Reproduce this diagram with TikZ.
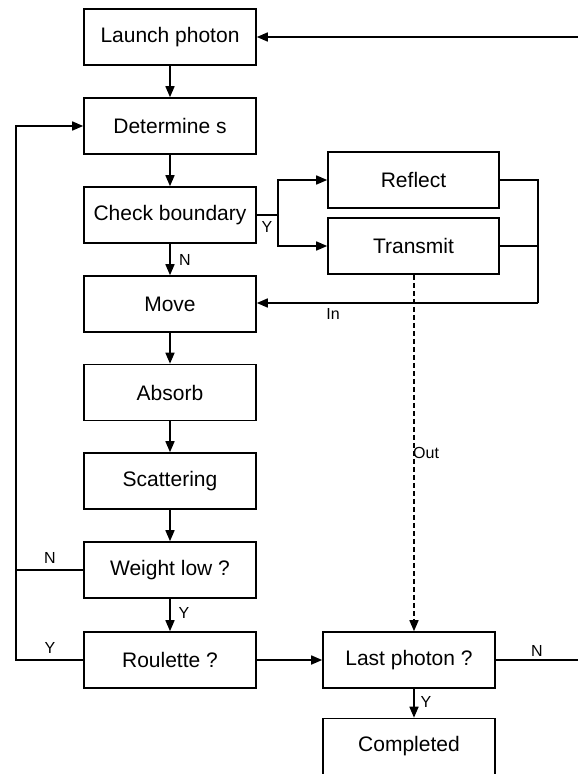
\documentclass[tikz,border=0pt]{standalone}
\usepackage{fontspec}
\setmainfont{Liberation Sans}
\usetikzlibrary{arrows.meta}
\tikzset{
  box/.style={draw, line width=1.6pt, minimum width=172pt, minimum height=56pt, inner sep=0pt,
    font=\fontsize{21}{25}\selectfont},
  conn/.style={line width=1.6pt},
  arr/.style={conn, -{Triangle[length=11pt,width=9pt]}},
  lbl/.style={font=\fontsize{16}{19}\selectfont, inner sep=0pt}
}
\begin{document}
\begin{tikzpicture}[x=1pt,y=-1pt]
\clip (0,0) rectangle (578,774);
\fill[white] (0,0) rectangle (578,774);
% left column
\node[box] (launch) at (170,37) {Launch photon};
\node[box] (det) at (170,126) {Determine s};
\node[box] (check) at (170,215) {Check boundary};
\node[box] (move) at (170,304) {Move};
\node[box] (abs) at (170,392.5) {Absorb};
\node[box] (scat) at (170,481) {Scattering};
\node[box] (wl) at (170,570) {Weight low ?};
\node[box] (rou) at (170,660) {Roulette ?};
% right column
\node[box, minimum width=171pt] (refl) at (413.5,180) {Reflect};
\node[box, minimum width=171pt] (trans) at (413.5,246) {Transmit};
\node[box] (last) at (409,660) {Last photon ?};
\node[box] (comp) at (409,746.5) {Completed};
% helper coordinates
\coordinate (edgeTop) at (578,37);
\coordinate (edgeBot) at (578,660);
\coordinate (jY) at (278,215);
\coordinate (busR) at (538,303);
\coordinate (busL) at (16,126);
\coordinate (dashX) at (414,0);
% main chain
\draw[arr] (launch) -- (det);
\draw[arr] (det) -- (check);
\draw[arr] (check) -- (move);
\draw[arr] (move) -- (abs);
\draw[arr] (abs) -- (scat);
\draw[arr] (scat) -- (wl);
\draw[arr] (wl) -- (rou);
\draw[arr] (rou) -- (last);
% boundary branch
\draw[conn] (check.east) -- (jY);
\draw[arr] (jY) |- (refl.west);
\draw[arr] (jY) |- (trans.west);
\draw[conn] (refl.east) -| (busR);
\draw[conn] (trans.east) -| (busR);
\draw[arr] (busR) -- (move.east |- busR);
% transmit out
\draw[arr, dash pattern=on 5pt off 3pt] (trans.south -| dashX) -- (last.north -| dashX);
\draw[arr] (last.south -| dashX) -- (comp.north -| dashX);
% left loop
\draw[conn] (wl.west) -- (wl.west -| busL);
\draw[arr] (rou.west) -| (busL) -- (det.west);
% right loop
\draw[conn] (last.east) -- (edgeBot);
\draw[arr] (edgeTop) -- (launch.east);
% labels
\node[lbl] at (267,227) {Y};
\node[lbl] at (185,260) {N};
\node[lbl] at (333,314) {In};
\node[lbl, anchor=west] at (413,453) {Out};
\node[lbl] at (50,558) {N};
\node[lbl] at (50,648) {Y};
\node[lbl] at (184,613) {Y};
\node[lbl] at (537,651) {N};
\node[lbl] at (426,702) {Y};
\end{tikzpicture}
\end{document}
